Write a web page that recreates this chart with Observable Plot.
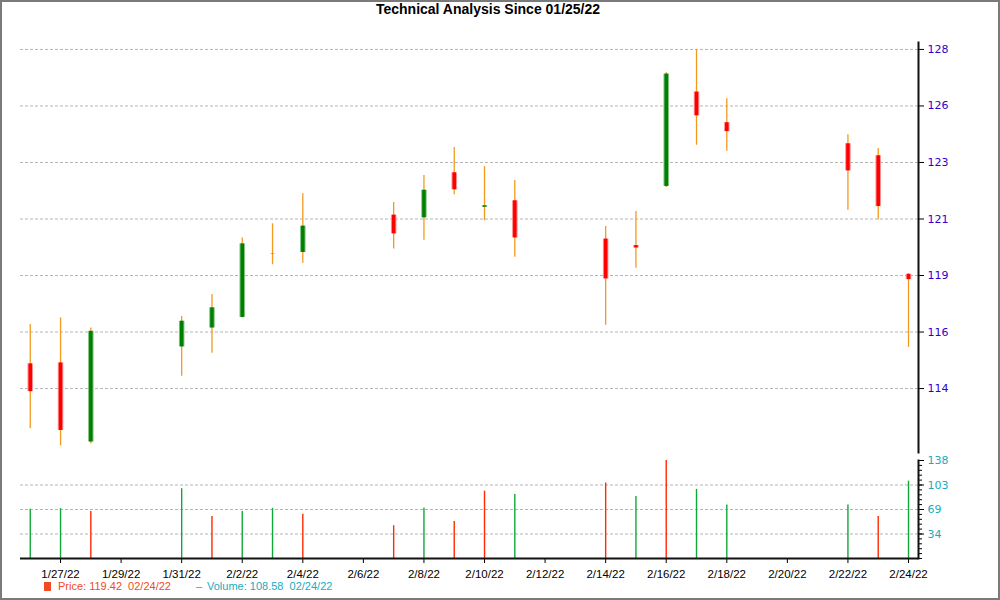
<!DOCTYPE html>
<html>
<head>
<meta charset="utf-8">
<script src="https://cdn.jsdelivr.net/npm/d3@7"></script>
<script src="https://cdn.jsdelivr.net/npm/@observablehq/plot@0.6"></script>
<style>
  html, body { margin: 0; padding: 0; background: #fff; }
  #wrap { position: relative; width: 1000px; height: 600px; overflow: hidden; font-family: "Liberation Sans", Arial, sans-serif; }
  #border { position: absolute; left: 0; top: 0; width: 1000px; height: 600px; box-sizing: border-box; border: 2px solid #7a7a7a; pointer-events: none; }
  #title { position: absolute; left: 0; top: 1px; width: 976px; text-align: center; font-weight: bold; font-size: 14px; color: #000; }
  #price { position: absolute; left: 0; top: 0; }
  #volume { position: absolute; left: 0; top: 455px; }
  #legend { position: absolute; left: 44px; top: 580px; font-size: 11px; white-space: pre; }
  #legend span { position: absolute; top: 0; }
</style>
</head>
<body>
<div id="wrap">
  <div id="price"></div>
  <div id="volume"></div>
  <div id="title">Technical Analysis Since 01/25/22</div>
  <div id="legend">
    <span style="left:0px;top:2px;width:7px;height:9px;background:#f04b23;"></span>
    <span style="left:14px;color:#f04b23;">Price: 119.42  02/24/22</span>
    <span style="left:152px;color:#1aabbe;">–</span>
    <span style="left:163px;color:#1aabbe;">Volume: 108.58  02/24/22</span>
  </div>
  <div id="border"></div>
</div>
<script>
const dates = ["2022-01-26","2022-01-27","2022-01-28","2022-01-31","2022-02-01","2022-02-02","2022-02-03","2022-02-04","2022-02-07","2022-02-08","2022-02-09","2022-02-10","2022-02-11","2022-02-14","2022-02-15","2022-02-16","2022-02-17","2022-02-18","2022-02-22","2022-02-23","2022-02-24"];
const open  = [114.93,114.97,111.67,115.64,116.43,116.87,119.51,119.58,121.14,121.03,122.91,121.47,121.74,120.14,119.87,122.34,126.28,125.00,124.12,123.62,118.67];
const close = [113.77,112.15,116.29,116.71,117.27,119.94,119.50,120.68,120.36,122.18,122.20,121.53,120.19,118.48,119.77,127.03,125.29,124.63,122.99,121.50,118.45];
const high  = [116.57,116.85,116.43,116.91,117.83,120.19,120.78,122.03,121.67,122.80,123.97,123.17,122.59,120.67,121.29,127.09,128.05,126.00,124.50,123.92,118.69];
const low   = [112.22,111.51,111.59,114.41,115.37,116.85,119.07,119.13,119.73,120.09,121.99,120.90,119.38,116.54,118.92,122.30,124.06,123.81,121.35,120.95,115.62];
const volume = [69,70,66,98,59,66,70.4,62,46,71,52,94.5,90,106,87,137.5,97,75,75,59,108.58];
const volumeDir = ["up","up","down","up","down","up","up","down","down","up","down","down","up","down","up","down","up","up","up","down","up"];

const priceTicks = [113.9,116.26,118.62,120.98,123.34,125.7,128.06];
const volumeTicks = [34.4,68.8,103.2,137.6];
const dateTicks = ["2022-01-27","2022-01-29","2022-01-31","2022-02-02","2022-02-04","2022-02-06","2022-02-08","2022-02-10","2022-02-12","2022-02-14","2022-02-16","2022-02-18","2022-02-20","2022-02-22","2022-02-24"];

const parse = d3.utcParse("%Y-%m-%d");
const fmtDate = d3.utcFormat("%-m/%-d/%y");
const data = dates.map((d, i) => ({
  date: parse(d), open: open[i], close: close[i], high: high[i], low: low[i],
  volume: volume[i], dir: volumeDir[i], up: close[i] >= open[i]
}));
const xTicks = dateTicks.map(parse);
const DAY = 86400000;
const xDomain = [new Date(xTicks[0].getTime() - 1.322 * DAY), new Date(xTicks[xTicks.length - 1].getTime() + 0.33 * DAY)];
const minorVol = d3.range(0, 137.61, 6.88);

const priceChart = Plot.plot({
  width: 1000, height: 455,
  marginLeft: 20, marginRight: 82, marginTop: 42, marginBottom: 3,
  style: { fontFamily: "DejaVu Sans, sans-serif", fontSize: "11px", background: "transparent" },
  x: { type: "utc", domain: xDomain, axis: null },
  y: { domain: [111.23, 128.35], axis: null },
  marks: [
    Plot.gridY(priceTicks, { stroke: "#b4b4b4", strokeOpacity: 1, strokeDasharray: "3,2" }),
    Plot.ruleX(data, { x: "date", y1: "low", y2: "high", stroke: "#f39a1e", strokeWidth: 1.3 }),
    Plot.ruleX(data, { x: "date", y1: "open", y2: "close", stroke: d => d.up ? "#80c080" : "#ff9090", strokeWidth: 5.5 }),
    Plot.ruleX(data, { x: "date", y1: "open", y2: "close", stroke: d => d.up ? "#008000" : "#ff0000", strokeWidth: 3.5 }),
    Plot.axisY(priceTicks, { anchor: "right", tickSize: 5, tickPadding: 4, tickFormat: d => Math.round(d), color: "#3300cc", stroke: "#000", label: null }),
    Plot.frame({ anchor: "right", stroke: "#111", strokeWidth: 2 })
  ]
});
document.getElementById("price").appendChild(priceChart);

const volumeChart = Plot.plot({
  width: 1000, height: 145,
  marginLeft: 20, marginRight: 82, marginTop: 5, marginBottom: 42,
  style: { fontFamily: "Liberation Sans, Arial, sans-serif", fontSize: "11px", background: "transparent" },
  x: { type: "utc", domain: xDomain },
  y: { domain: [0, 137.6] },
  marks: [
    Plot.gridY(volumeTicks.slice(0, 3), { stroke: "#b4b4b4", strokeOpacity: 1, strokeDasharray: "3,2" }),
    Plot.ruleX(data, { x: "date", y1: 0, y2: "volume", stroke: d => d.dir === "up" ? "#10a838" : "#ff2a00", strokeWidth: 1.4 }),
    Plot.axisX(xTicks, { anchor: "bottom", tickSize: 5, tickPadding: 6, tickFormat: fmtDate, color: "#000", fontSize: 11.5, label: null }),
    Plot.axisY(minorVol, { anchor: "right", tickSize: 3, tickFormat: () => "", stroke: "#000", label: null }),
    Plot.axisY(volumeTicks, { anchor: "right", tickSize: 5, tickPadding: 4, tickFormat: d => Math.round(d), color: "#1aabbe", stroke: "#000", fontFamily: "DejaVu Sans, sans-serif", fontSize: 11, label: null }),
    Plot.ruleY([0], { stroke: "#111", strokeWidth: 2 }),
    Plot.frame({ anchor: "right", stroke: "#111", strokeWidth: 2 })
  ]
});
document.getElementById("volume").appendChild(volumeChart);
</script>
</body>
</html>
